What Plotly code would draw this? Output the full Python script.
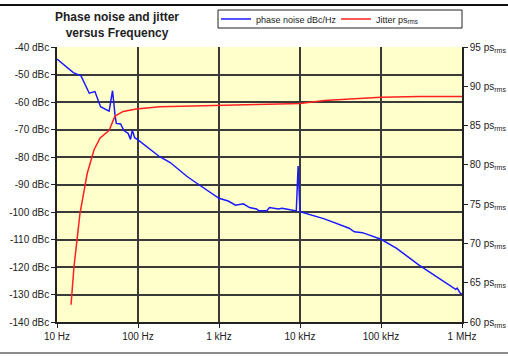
import plotly.graph_objects as go

# Phase noise (dBc/Hz) vs offset frequency
pn_freq = [10, 15.9, 19.8, 25, 29.4, 34.5, 44, 48.5, 52, 54, 61, 67, 75.5, 80.8, 85, 91, 100,
           185, 250, 300, 400, 500, 700, 1000, 1300, 1600, 2000, 2380, 2900, 3100, 3900, 4200,
           5400, 6000, 7000, 9000, 9480, 10000, 20000, 30500, 40500, 46800, 59000, 100000,
           156000, 295000, 571000, 836000, 871000, 955000, 1000000]
pn_db = [-44.4, -49.3, -50.5, -56.8, -56.2, -61.7, -63.3, -55.9, -64.7, -67.8, -68.0, -70.4,
         -71.4, -73.6, -70.2, -73.0, -73.8, -79.9, -82.0, -84.0, -87.0, -89.0, -92.0, -95.0,
         -96.0, -97.5, -97.0, -98.4, -98.9, -99.5, -99.5, -98.4, -98.9, -98.6, -99.0, -99.6,
         -83.3, -99.9, -102.5, -104.5, -105.9, -107.2, -107.5, -109.9, -113.2, -119.3, -124.7,
         -128.1, -127.7, -129.6, -129.8]

# Integrated jitter (ps rms) vs lower integration limit
jit_freq = [14.9, 16.2, 19.2, 23.6, 28.6, 33.9, 44, 52, 65.6, 95.5, 185, 575, 1000, 3000,
            10000, 20000, 50000, 100000, 300000, 1000000]
jit_ps = [62.2, 67.0, 73.8, 78.9, 81.9, 83.4, 84.4, 86.2, 86.8, 87.1, 87.4, 87.5, 87.6, 87.7,
          87.8, 88.2, 88.4, 88.6, 88.7, 88.7]

x_tickvals = [10, 100, 1000, 10000, 100000, 1000000]
x_ticktext = ["10 Hz", "100 Hz", "1 kHz", "10 kHz", "100 kHz", "1 MHz"]
left_tickvals = list(range(-140, -39, 10))
left_ticktext = [f"{v} dBc" for v in left_tickvals]
right_tickvals = list(range(60, 96, 5))
right_ticktext = [f"{v} ps<sub>rms</sub>" for v in right_tickvals]

FONT = "Liberation Sans, Arial, sans-serif"
GRID = "#3a3a3a"

W, H = 508, 356
ML, MR, MT, MB = 57, 46, 47, 34
PW, PH = W - ML - MR, H - MT - MB


def px(x):
    return (x - ML) / PW


def py(y):
    return (H - MB - y) / PH


fig = go.Figure()
fig.add_trace(go.Scatter(x=pn_freq, y=pn_db, mode="lines", name="phase noise dBc/Hz",
                         line=dict(color="#1a1aff", width=1.5)))
fig.add_trace(go.Scatter(x=jit_freq, y=jit_ps, mode="lines", name="Jitter ps<sub>rms</sub>",
                         yaxis="y2", line=dict(color="#ff2020", width=1.5)))

fig.update_layout(
    width=W, height=H,
    margin=dict(l=ML, r=MR, t=MT, b=MB, autoexpand=False),
    paper_bgcolor="white",
    plot_bgcolor="#ffffcc",
    font=dict(family=FONT, size=10, color="#222"),
    showlegend=True,
    legend=dict(orientation="h", x=px(216), y=py(19), xanchor="left", yanchor="middle",
                bgcolor="rgba(0,0,0,0)", borderwidth=0,
                font=dict(size=9), itemwidth=30, entrywidth=75, entrywidthmode="pixels",
                tracegroupgap=0),
    xaxis=dict(type="log", range=[1, 6], tickvals=x_tickvals, ticktext=x_ticktext,
               showgrid=True, gridcolor=GRID, gridwidth=1.5,
               showline=True, linecolor="#222", linewidth=1.5,
               ticks="outside", ticklen=4, tickcolor="#222", zeroline=False),
    yaxis=dict(range=[-140, -40], tickvals=left_tickvals, ticktext=left_ticktext,
               showgrid=True, gridcolor=GRID, gridwidth=1.5,
               showline=True, linecolor="#222", linewidth=1.5,
               ticks="outside", ticklen=4, tickcolor="#222", zeroline=False),
    yaxis2=dict(range=[60, 95], tickvals=right_tickvals, ticktext=right_ticktext,
                overlaying="y", side="right", showgrid=False,
                showline=True, linecolor="#222", linewidth=1.5,
                ticks="outside", ticklen=4, tickcolor="#222", zeroline=False),
    annotations=[dict(text="<b>Phase noise and jitter<br>versus Frequency</b>",
                      xref="paper", yref="paper", x=px(117), y=py(25),
                      xanchor="center", yanchor="middle", showarrow=False,
                      font=dict(size=12, family=FONT, color="#222"))],
    shapes=[
        dict(type="line", xref="paper", yref="paper", x0=px(0), x1=px(W), y0=py(5), y1=py(5),
             line=dict(color="#111", width=2)),
        dict(type="line", xref="paper", yref="paper", x0=px(0), x1=px(W), y0=py(353), y1=py(353),
             line=dict(color="#666", width=1.5)),
        dict(type="rect", xref="paper", yref="paper", x0=px(218), x1=px(462),
             y0=py(28), y1=py(10), fillcolor="white", line=dict(color="#222", width=1)),
    ],
)

fig.write_html("out.html")
